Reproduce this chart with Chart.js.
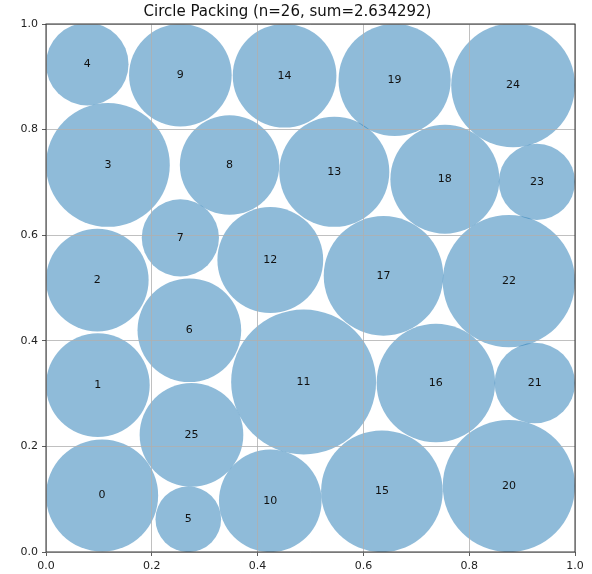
<!DOCTYPE html>
<html>
<head>
<meta charset="utf-8">
<script src="https://cdn.jsdelivr.net/npm/chart.js@4/dist/chart.umd.min.js"></script>
<style>
  html, body { margin: 0; padding: 0; background: #fff; }
  canvas { display: block; }
</style>
</head>
<body>
<canvas id="packChart" width="592" height="574"></canvas>
<script>
// circle centres and radii (data units)
var circleX = [0.106, 0.098, 0.097, 0.117, 0.078, 0.269, 0.271, 0.254, 0.347, 0.254, 0.424, 0.487, 0.424,
               0.545, 0.451, 0.635, 0.737, 0.638, 0.754, 0.659, 0.875, 0.924, 0.875, 0.928, 0.883, 0.275];
var circleY = [0.107, 0.316, 0.515, 0.733, 0.924, 0.062, 0.420, 0.595, 0.733, 0.903, 0.097, 0.322, 0.553,
               0.720, 0.902, 0.115, 0.320, 0.523, 0.706, 0.894, 0.125, 0.320, 0.513, 0.701, 0.884, 0.222];
var circleR = [0.106, 0.098, 0.097, 0.117, 0.078, 0.062, 0.098, 0.073, 0.094, 0.097, 0.097, 0.137, 0.100,
               0.104, 0.098, 0.115, 0.112, 0.113, 0.103, 0.106, 0.125, 0.076, 0.125, 0.072, 0.117, 0.098];
var tickValues = [0, 0.2, 0.4, 0.6, 0.8, 1.0];
var tickLabels = ['0.0', '0.2', '0.4', '0.6', '0.8', '1.0'];
var chartTitle = 'Circle Packing (n=26, sum=2.634292)';

var points = circleX.map(function(x, i) { return {x: x, y: circleY[i], r: 1}; });

// index labels and the axes box, drawn last
var overlay = {
    id: 'overlay',
    afterDraw: function(chart) {
        var c = chart.ctx, a = chart.chartArea;
        c.save();
        c.font = '11px "DejaVu Sans"';
        c.fillStyle = '#111';
        c.textAlign = 'center';
        c.textBaseline = 'middle';
        points.forEach(function(p, i) {
            c.fillText(String(i), chart.scales.x.getPixelForValue(p.x), chart.scales.y.getPixelForValue(p.y));
        });
        c.strokeStyle = '#333';
        c.lineWidth = 1;
        c.strokeRect(a.left, a.top, a.right - a.left, a.bottom - a.top);
        c.restore();
    }
};

function setTicks(s) {
    s.ticks = tickValues.map(function(v) { return {value: v}; });
}

var axisCommon = {
    type: 'linear',
    min: 0,
    max: 1,
    afterBuildTicks: setTicks,
    // grid over the circles, like matplotlib's default
    grid: { z: 1, color: '#b0b0b0', lineWidth: 0.8, tickColor: '#333', tickLength: 4 },
    border: { display: false },
    ticks: {
        color: '#222',
        font: { family: 'DejaVu Sans', size: 11 },
        callback: function(v) { return tickLabels[tickValues.indexOf(v)]; }
    }
};

var chart = new Chart(document.getElementById('packChart').getContext('2d'), {
    type: 'bubble',
    data: {
        datasets: [{
            data: points,
            backgroundColor: 'rgba(31, 119, 180, 0.5)',
            borderWidth: 0,
            hoverRadius: 0
        }]
    },
    options: {
        responsive: false,
        animation: false,
        events: [],
        layout: { autoPadding: false, padding: { left: 0, right: 17, top: 0, bottom: 0 } },
        plugins: {
            legend: { display: false },
            tooltip: { enabled: false },
            title: {
                display: true,
                text: chartTitle,
                color: '#111',
                font: { family: 'DejaVu Sans', size: 15, weight: 'normal' },
                padding: { top: 3, bottom: 3 }
            }
        },
        scales: {
            x: Object.assign({}, axisCommon, {
                ticks: Object.assign({}, axisCommon.ticks, { padding: 4, maxRotation: 0 }),
                afterFit: function(s) { s.height = 22; }
            }),
            y: Object.assign({}, axisCommon, {
                ticks: Object.assign({}, axisCommon.ticks, { padding: 4 }),
                afterFit: function(s) { s.width = 46; }
            })
        }
    },
    plugins: [overlay]
});

// bubble radius is in pixels: convert data-unit radii with the x scale
var sx = chart.scales.x;
var pxPerUnit = Math.abs(sx.getPixelForValue(1) - sx.getPixelForValue(0));
points.forEach(function(p, i) { p.r = circleR[i] * pxPerUnit; });
chart.update();
</script>
</body>
</html>
